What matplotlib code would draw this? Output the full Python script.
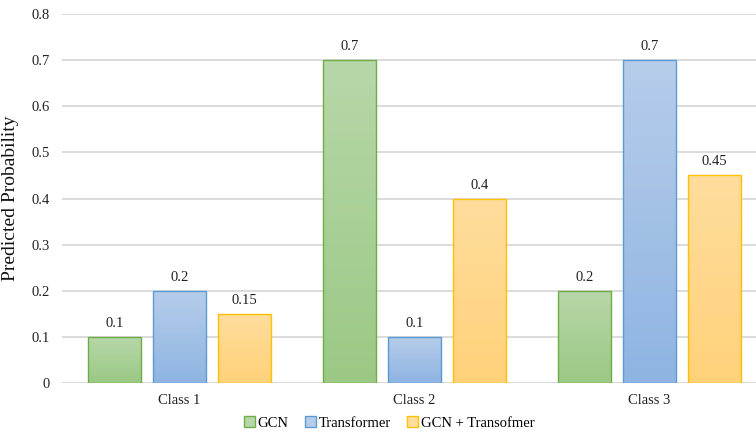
import numpy as np
import matplotlib
matplotlib.use('Agg')
import matplotlib.pyplot as plt
from matplotlib.colors import LinearSegmentedColormap
from matplotlib.patches import Patch

plt.rcParams['font.family'] = ['Liberation Serif', 'DejaVu Serif']

classes = ['Class 1', 'Class 2', 'Class 3']
series = ['GCN', 'Transformer', 'GCN + Transofmer']
gcn = [0.1, 0.7, 0.2]
transformer = [0.2, 0.1, 0.7]
combined = [0.15, 0.4, 0.45]
values = [gcn, transformer, combined]

# top colour, bottom colour, edge colour
colors = [('#b7d7a9', '#9bc985', '#70ad47'),
          ('#b6cdea', '#8fb4e2', '#5b9bd5'),
          ('#ffdd9d', '#ffd27a', '#ffc000')]

fig = plt.figure(figsize=(7.56, 4.37), dpi=100)
ax = fig.add_axes([62/756, 54/437, 694/756, 369/437])

x = np.arange(len(classes))
width = 0.2255
step = 0.2766

legend_handles = []
for i, (vals, name) in enumerate(zip(values, series)):
    top, bottom, edge = colors[i]
    cmap = LinearSegmentedColormap.from_list('g%d' % i, [bottom, top])
    bars = ax.bar(x + (i - 1) * step, vals, width, color='none',
                  edgecolor=edge, linewidth=1.0, zorder=3)
    for b in bars:
        bx, by = b.get_x(), b.get_y()
        bw, bh = b.get_width(), b.get_height()
        grad = np.linspace(0, 1, 100).reshape(-1, 1)
        im = ax.imshow(grad, cmap=cmap, origin='lower', aspect='auto',
                       extent=[bx, bx + bw, by, by + bh], zorder=2)
        im.set_clip_path(b)
        ax.annotate('%g' % b.get_height(), (bx + bw / 2, by + bh),
                    xytext=(0, 5), textcoords='offset points',
                    ha='center', va='bottom', fontsize=10.5, color='#222222')
    legend_handles.append(Patch(facecolor=top, edgecolor=edge, label=name))

ax.set_xlim(-0.5, 2.453)
ax.set_ylim(0, 0.8)
ax.set_yticks(np.arange(0, 0.81, 0.1))
ax.set_yticklabels(['0'] + ['%.1f' % v for v in np.arange(0.1, 0.81, 0.1)])
ax.set_xticks(x)
ax.set_xticklabels(classes)
ax.tick_params(axis='both', length=0, labelsize=10.5, colors='#222222')
ax.tick_params(axis='x', pad=8)
ax.tick_params(axis='y', pad=9)
ax.grid(axis='y', color='#d9d9d9', linewidth=1.3, zorder=0)
ax.set_axisbelow(True)
for s in ax.spines.values():
    s.set_visible(False)

ax.set_ylabel('Predicted Probability', fontsize=14, color='#111111')
ax.yaxis.set_label_coords(-0.062, 0.5)

fig.legend(handles=legend_handles, loc='center', bbox_to_anchor=(389/756, 1 - 423/437),
           ncol=3, frameon=False, fontsize=10.5, handlelength=0.75, handleheight=0.75,
           handletextpad=0.2, columnspacing=1.1)

fig.savefig('out.png', dpi=100)
